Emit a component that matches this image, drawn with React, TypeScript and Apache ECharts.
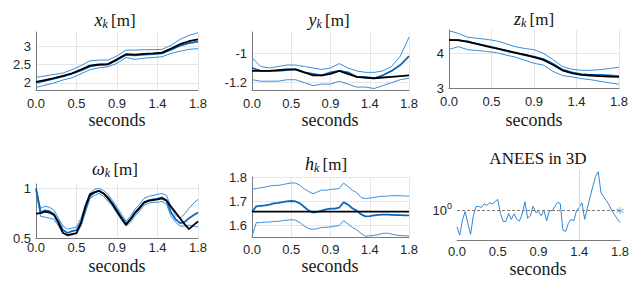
import React, { useEffect, useRef } from 'react';
import * as echarts from 'echarts';

// ---- time grids (seconds) ----
const T19 = [0, 0.1, 0.2, 0.3, 0.4, 0.5, 0.6, 0.7, 0.8, 0.9, 1.0, 1.1, 1.2, 1.3, 1.4, 1.5, 1.6, 1.7, 1.8];
const T37 = [0, 0.05, 0.1, 0.15, 0.2, 0.25, 0.3, 0.35, 0.4, 0.45, 0.5, 0.55, 0.6, 0.65, 0.7, 0.75, 0.8, 0.85, 0.9, 0.95,
  1.0, 1.05, 1.1, 1.15, 1.2, 1.25, 1.3, 1.35, 1.4, 1.45, 1.5, 1.55, 1.6, 1.65, 1.7, 1.75, 1.8];
const T61 = [0, 0.03, 0.06, 0.09, 0.12, 0.15, 0.18, 0.21, 0.24, 0.27, 0.3, 0.33, 0.36, 0.39, 0.42, 0.45, 0.48, 0.51, 0.54,
  0.57, 0.6, 0.63, 0.66, 0.69, 0.72, 0.75, 0.78, 0.81, 0.84, 0.87, 0.9, 0.93, 0.96, 0.99, 1.02, 1.05, 1.08, 1.11, 1.14,
  1.17, 1.2, 1.23, 1.26, 1.29, 1.32, 1.35, 1.38, 1.41, 1.44, 1.47, 1.5, 1.53, 1.56, 1.59, 1.62, 1.65, 1.68, 1.71, 1.74,
  1.77, 1.8];

// ---- x_k ----
const xTruth = [2.03, 2.08, 2.13, 2.19, 2.26, 2.36, 2.47, 2.50, 2.51, 2.64, 2.78, 2.77, 2.79, 2.80, 2.82, 2.93, 3.05, 3.13, 3.18];
const xEst = [2.01, 2.06, 2.12, 2.18, 2.25, 2.34, 2.45, 2.49, 2.50, 2.62, 2.76, 2.75, 2.77, 2.78, 2.80, 2.90, 3.01, 3.08, 3.12];
const xUpper = [2.15, 2.19, 2.23, 2.27, 2.36, 2.47, 2.60, 2.62, 2.62, 2.73, 2.89, 2.89, 2.90, 2.90, 2.91, 3.02, 3.18, 3.29, 3.36];
const xLower = [1.88, 1.94, 2.00, 2.08, 2.14, 2.25, 2.36, 2.41, 2.44, 2.53, 2.69, 2.64, 2.67, 2.69, 2.71, 2.80, 2.86, 2.91, 2.93];

// ---- y_k ----
const yTruth = [-1.12, -1.12, -1.12, -1.115, -1.11, -1.11, -1.13, -1.15, -1.15, -1.14, -1.12, -1.14, -1.16, -1.165, -1.17, -1.165, -1.16, -1.155, -1.15];
const yEst = [-1.10, -1.12, -1.12, -1.12, -1.115, -1.11, -1.13, -1.14, -1.15, -1.13, -1.12, -1.13, -1.16, -1.165, -1.17, -1.15, -1.12, -1.08, -1.02];
const yUpper = [-1.03, -1.09, -1.10, -1.09, -1.08, -1.08, -1.09, -1.10, -1.11, -1.10, -1.07, -1.10, -1.12, -1.13, -1.13, -1.12, -1.09, -1.02, -0.89];
const yLower = [-1.18, -1.19, -1.19, -1.19, -1.18, -1.18, -1.20, -1.22, -1.21, -1.21, -1.19, -1.21, -1.23, -1.23, -1.24, -1.22, -1.20, -1.18, -1.17];

// ---- z_k ----
const zTruth = [4.38, 4.38, 4.33, 4.27, 4.20, 4.14, 4.08, 4.02, 3.96, 3.89, 3.81, 3.67, 3.51, 3.43, 3.38, 3.36, 3.34, 3.33, 3.32];
const zEst = [4.39, 4.37, 4.34, 4.26, 4.21, 4.15, 4.07, 4.01, 3.95, 3.90, 3.83, 3.70, 3.53, 3.45, 3.40, 3.38, 3.38, 3.36, 3.34];
const zUpper = [4.65, 4.57, 4.46, 4.43, 4.40, 4.36, 4.28, 4.19, 4.14, 4.10, 4.00, 3.82, 3.62, 3.54, 3.51, 3.51, 3.53, 3.56, 3.60];
const zLower = [4.11, 4.19, 4.10, 4.08, 4.05, 4.02, 3.95, 3.89, 3.80, 3.71, 3.66, 3.48, 3.36, 3.32, 3.27, 3.24, 3.19, 3.15, 3.11];

// ---- omega_k ----
const wTruth = [0.745, 0.75, 0.767, 0.757, 0.733, 0.65, 0.55, 0.53, 0.54, 0.55, 0.65, 0.82, 0.943, 0.96, 0.977, 0.95, 0.9, 0.84, 0.767, 0.70,
  0.633, 0.69, 0.75, 0.80, 0.857, 0.875, 0.883, 0.89, 0.9, 0.877, 0.817, 0.76, 0.70, 0.64, 0.59, 0.63, 0.667];
const wEst = [1.0, 0.76, 0.78, 0.77, 0.74, 0.67, 0.58, 0.55, 0.57, 0.58, 0.66, 0.80, 0.92, 0.96, 0.975, 0.95, 0.91, 0.85, 0.78, 0.71,
  0.645, 0.69, 0.76, 0.81, 0.86, 0.88, 0.89, 0.895, 0.91, 0.88, 0.76, 0.69, 0.65, 0.66, 0.70, 0.73, 0.757];
const wUpper = [1.0, 0.80, 0.82, 0.81, 0.78, 0.70, 0.62, 0.59, 0.60, 0.61, 0.70, 0.84, 0.95, 0.99, 1.0, 0.98, 0.94, 0.88, 0.81, 0.74,
  0.67, 0.72, 0.79, 0.84, 0.90, 0.92, 0.93, 0.94, 0.95, 0.93, 0.81, 0.73, 0.70, 0.74, 0.80, 0.85, 0.89];
const wLower = [0.98, 0.72, 0.71, 0.70, 0.69, 0.62, 0.55, 0.52, 0.53, 0.55, 0.62, 0.76, 0.90, 0.93, 0.95, 0.92, 0.87, 0.82, 0.75, 0.68,
  0.62, 0.66, 0.72, 0.77, 0.83, 0.85, 0.86, 0.86, 0.87, 0.84, 0.72, 0.66, 0.62, 0.62, 0.63, 0.62, 0.61];

// ---- h_k ----
const hTruthT = [0, 1.8];
const hTruth = [1.656, 1.656];
const hEst = [1.655, 1.678, 1.68, 1.682, 1.685, 1.69, 1.692, 1.695, 1.698, 1.70, 1.698, 1.69, 1.675, 1.66, 1.652, 1.655, 1.66, 1.665, 1.668, 1.668,
  1.672, 1.695, 1.685, 1.67, 1.66, 1.645, 1.636, 1.637, 1.64, 1.642, 1.643, 1.643, 1.642, 1.641, 1.641, 1.64, 1.64];
const hUpper = [1.75, 1.752, 1.755, 1.758, 1.762, 1.765, 1.765, 1.768, 1.772, 1.775, 1.775, 1.765, 1.75, 1.74, 1.73, 1.738, 1.745, 1.745, 1.748, 1.75,
  1.752, 1.775, 1.76, 1.745, 1.735, 1.715, 1.71, 1.712, 1.715, 1.718, 1.72, 1.72, 1.722, 1.722, 1.722, 1.721, 1.72];
const hLower = [1.553, 1.61, 1.61, 1.612, 1.612, 1.615, 1.615, 1.618, 1.62, 1.622, 1.62, 1.61, 1.595, 1.585, 1.582, 1.585, 1.59, 1.59, 1.592, 1.595,
  1.598, 1.618, 1.605, 1.59, 1.58, 1.565, 1.553, 1.555, 1.557, 1.56, 1.565, 1.566, 1.562, 1.558, 1.556, 1.555, 1.555];

// ---- ANEES ----
const anees = [0.69, 0.57, 0.81, 0.98, 0.75, 0.58, 0.89, 1.10, 1.10, 1.08, 1.17, 1.13, 1.20, 1.17, 1.23, 1.30, 0.94, 0.78, 0.78, 0.94,
  0.82, 0.93, 0.82, 0.79, 0.93, 1.23, 0.84, 0.89, 1.11, 0.96, 0.98, 0.89, 1.02, 0.79, 1.00, 1.00, 1.10, 1.21, 1.18, 0.64,
  0.62, 0.75, 0.82, 0.79, 1.00, 1.08, 1.20, 0.82, 1.06, 1.38, 1.74, 2.20, 2.45, 1.51, 1.38, 1.26, 1.14, 1.00, 0.91, 0.83, 0.76];
const aneesRef = 1;
const aneesMarkT = 1.35;

const xTickLabels = ['0.0', '0.5', '0.9', '1.4', '1.8'];
const xAxisTitle = 'seconds';

const SERIF = 'Liberation Serif';
const SANS = 'Liberation Sans';
const BLUE_THIN = '#3a8edb';
const BLUE = '#0b66bb';

const pairs = (t: number[], v: number[]) => t.map((x, i) => [x, v[i]]);

function buildOption() {
  const grids = [
    { left: 36, top: 32, width: 162, height: 58 },
    { left: 252, top: 32, width: 157, height: 58 },
    { left: 449, top: 30, width: 170, height: 58 },
    { left: 36, top: 184, width: 162, height: 54 },
    { left: 252, top: 177, width: 157, height: 60 },
    { left: 457, top: 170, width: 163, height: 70 },
  ];
  const labelMargins = [7, 7, 7, 3, 6, 5];

  const xAxis = grids.map((_, i) => ({
    gridIndex: i,
    type: 'value',
    min: 0,
    max: 1.8,
    interval: 0.45,
    axisLine: { show: true, lineStyle: { color: '#7a7a7a', width: 1 } },
    axisTick: { show: false },
    axisLabel: {
      margin: labelMargins[i],
      color: '#262626',
      fontFamily: SANS,
      fontSize: 13,
      formatter: (v: number) => xTickLabels[Math.round(v / 0.45)] ?? '',
    },
    splitLine: { show: i < 5, lineStyle: { color: '#e6e6e6', width: 1 } },
  }));

  const yDefs = [
    { min: 1.81, max: 3.38, ticks: [2, 2.5, 3] },
    { min: -1.25, max: -0.855, ticks: [-1.2, -1] },
    { min: 3, max: 4.67, ticks: [3, 4] },
    { min: 0.5, max: 1.045, ticks: [0.5, 1] },
    { min: 1.55, max: 1.8, ticks: [1.6, 1.7, 1.8] },
  ];
  const yAxis: any[] = yDefs.map((d, i) => ({
    gridIndex: i,
    type: 'value',
    min: d.min,
    max: d.max,
    axisLine: { show: true, lineStyle: { color: '#7a7a7a', width: 1 } },
    axisTick: { show: false, customValues: d.ticks },
    axisLabel: { customValues: d.ticks, margin: 5, color: '#262626', fontFamily: SANS, fontSize: 13 },
    splitLine: { show: true, lineStyle: { color: '#e6e6e6', width: 1 } },
  }));
  yAxis.push({
    gridIndex: 5,
    type: 'log',
    logBase: 10,
    min: 0.51,
    max: 2.55,
    axisLine: { show: false },
    axisTick: { show: false },
    splitLine: { show: false },
    axisLabel: {
      margin: 5,
      formatter: (v: number) => (Math.abs(Math.log10(v)) < 1e-6 ? '{b|10}{s|0}' : ''),
      rich: {
        b: { fontFamily: SANS, fontSize: 13, color: '#262626', lineHeight: 18 },
        s: { fontFamily: SANS, fontSize: 9, color: '#262626', lineHeight: 10, verticalAlign: 'top' },
      },
    },
  });

  const line = (gi: number, data: number[][], color: string, width: number, z: number) => ({
    type: 'line',
    xAxisIndex: gi,
    yAxisIndex: gi,
    data,
    symbol: 'none',
    showSymbol: false,
    lineStyle: { color, width },
    z,
    silent: true,
  });

  const groups = [
    [T19, xTruth, xEst, xUpper, xLower],
    [T19, yTruth, yEst, yUpper, yLower],
    [T19, zTruth, zEst, zUpper, zLower],
    [T37, wTruth, wEst, wUpper, wLower],
  ];
  const series: any[] = [];
  groups.forEach((g, gi) => {
    const [t, tr, es, up, lo] = g;
    series.push(line(gi, pairs(t, up), BLUE_THIN, 1, 2));
    series.push(line(gi, pairs(t, lo), BLUE_THIN, 1, 2));
    series.push(line(gi, pairs(t, es), BLUE, 1.8, 3));
    series.push(line(gi, pairs(t, tr), '#000000', 1.8, 4));
  });
  series.push(line(4, pairs(T37, hUpper), BLUE_THIN, 1, 2));
  series.push(line(4, pairs(T37, hLower), BLUE_THIN, 1, 2));
  series.push(line(4, pairs(T37, hEst), BLUE, 1.8, 3));
  series.push(line(4, pairs(hTruthT, hTruth), '#000000', 1.8, 4));

  series.push({
    ...line(5, pairs(T61, anees), '#2f86d6', 1, 3),
    markLine: {
      silent: true,
      symbol: 'none',
      label: { show: false },
      animation: false,
      data: [
        { yAxis: aneesRef, lineStyle: { type: [3, 2], color: '#7a7a7a', width: 1 } },
        { xAxis: aneesMarkT, lineStyle: { type: 'solid', color: '#dadada', width: 1 } },
      ],
    },
  });
  series.push({
    type: 'scatter',
    xAxisIndex: 5,
    yAxisIndex: 5,
    data: [[1.8, aneesRef]],
    symbol: 'path://M5,0L5,10M0.67,2.5L9.33,7.5M0.67,7.5L9.33,2.5',
    symbolSize: 7,
    clip: false,
    itemStyle: { color: 'none', borderColor: '#4a9be0', borderWidth: 1 },
    z: 5,
    silent: true,
  });

  const richTitle = {
    i: { fontFamily: SERIF, fontStyle: 'italic', fontSize: 18, lineHeight: 20, fill: '#111' },
    s: { fontFamily: SERIF, fontStyle: 'italic', fontSize: 12, lineHeight: 10, verticalAlign: 'bottom', fill: '#111' },
    n: { fontFamily: SERIF, fontSize: 17, lineHeight: 20, fill: '#111' },
    l: { fontFamily: SERIF, fontSize: 18, lineHeight: 14, fill: '#1a1a1a' },
  };
  const titles = [
    { text: '{i|x}{s|k} {n|[m]}', x: 115, y: 20 },
    { text: '{i|y}{s|k} {n|[m]}', x: 329, y: 20 },
    { text: '{i|z}{s|k} {n|[m]}', x: 534, y: 19 },
    { text: '{i|ω}{s|k} {n|[m]}', x: 115, y: 169 },
    { text: '{i|h}{s|k} {n|[m]}', x: 326, y: 164 },
    { text: '{n|ANEES in 3D}', x: 538, y: 158 },
  ];
  const secondsPos = [
    { x: 117, y: 120 },
    { x: 330, y: 120 },
    { x: 534, y: 120 },
    { x: 117, y: 266 },
    { x: 330, y: 266 },
    { x: 538, y: 269 },
  ];
  const graphic: any[] = titles.map((t) => ({
    type: 'text',
    x: t.x,
    y: t.y,
    silent: true,
    style: {
      text: t.text,
      rich: richTitle,
      align: 'center',
      verticalAlign: 'middle',
      fill: '#111',
    },
  }));
  secondsPos.forEach((p) => {
    graphic.push({
      type: 'text',
      x: p.x,
      y: p.y,
      silent: true,
      style: {
        text: '{l|' + xAxisTitle + '}',
        rich: richTitle,
        align: 'center',
        verticalAlign: 'middle',
        fill: '#1a1a1a',
      },
    });
  });

  return {
    animation: false,
    backgroundColor: '#ffffff',
    textStyle: { fontFamily: SANS },
    grid: grids,
    xAxis,
    yAxis,
    series,
    graphic,
  };
}

export default function App() {
  const ref = useRef<HTMLDivElement>(null);
  useEffect(() => {
    if (!ref.current) return;
    const chart = echarts.init(ref.current, null, { renderer: 'svg' });
    chart.setOption(buildOption() as any);
    return () => chart.dispose();
  }, []);
  return (
    <div
      ref={ref}
      style={{ position: 'absolute', left: 0, top: 0, width: 640, height: 294, background: '#fff' }}
    />
  );
}
